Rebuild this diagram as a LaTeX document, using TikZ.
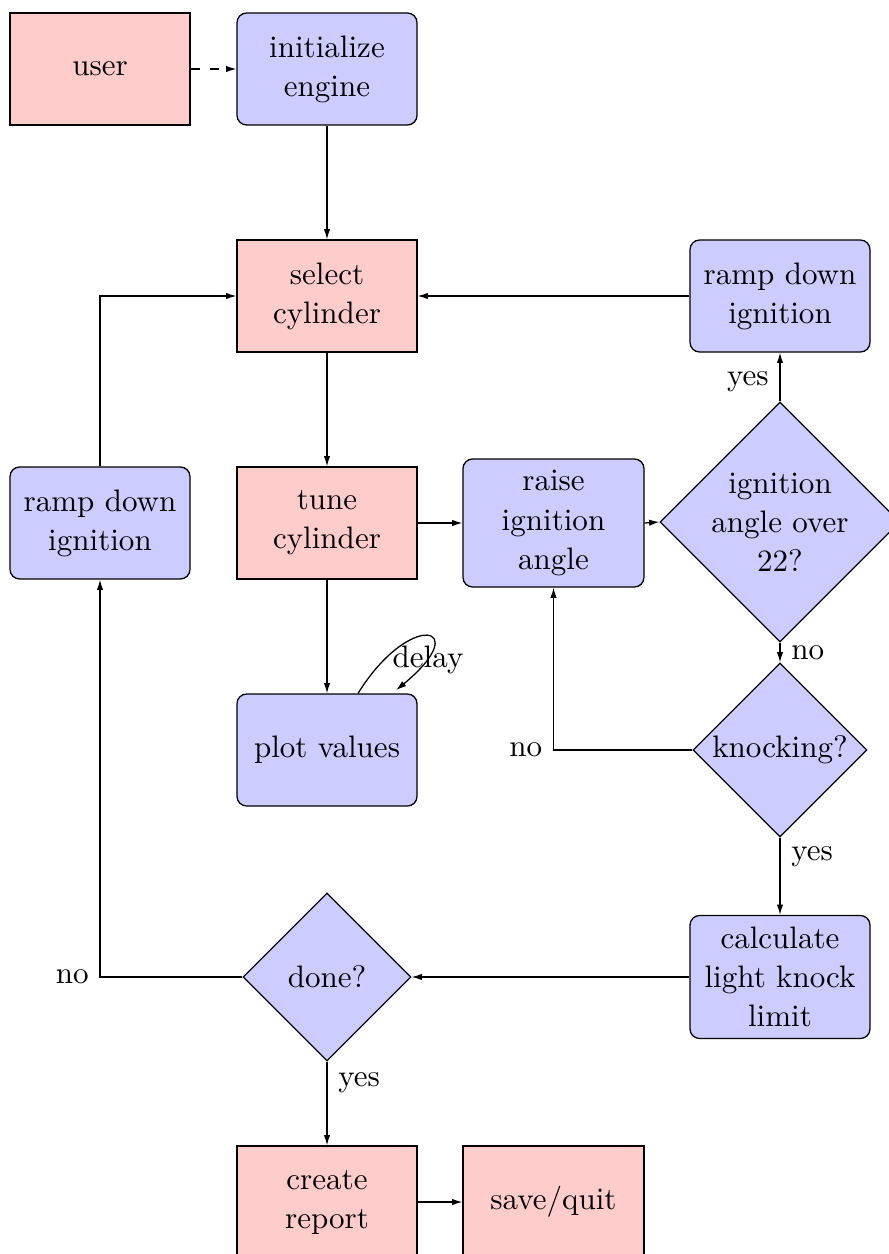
\documentclass[tikz,border=0pt]{standalone}
\usetikzlibrary{shapes.geometric,arrows.meta}
\newdimen\pxu \pxu=0.3125pt
\begin{document}
\begin{tikzpicture}[x=0.3125pt,y=-0.3125pt,
  font=\fontsize{9.7}{12.2}\selectfont,
  box/.style={rectangle,draw,minimum width=180\pxu,minimum height=112\pxu,align=center,inner sep=1pt},
  term/.style={box,fill=red!20},
  proc/.style={box,fill=blue!20,rounded corners=3pt},
  choice/.style={diamond,draw,fill=blue!20,inner sep=0pt,aspect=1},
  txt/.style={align=center,inner sep=0pt},
  flow/.style={draw,-{Latex[length=3.2pt,width=2pt]}}]
\useasboundingbox (0,0) rectangle (889,1254);
\clip (0,0) rectangle (889,1254);

% blocks
\node[term] (user)   at (100,69)  {user};
\node[proc] (init)   at (327,69)  {initialize\\engine};
\node[term] (select) at (327,296) {select\\cylinder};
\node[proc] (rampR)  at (780,296) {ramp down\\ignition};
\node[term] (tune)   at (327,523) {tune\\cylinder};
\node[proc] (rampL)  at (100,523) {ramp down\\ignition};
\node[proc,minimum width=181\pxu,minimum height=128\pxu] (raise) at (553.5,523) {raise\\ignition\\angle};
\node[proc] (plot)   at (327,750) {plot values};
\node[proc,minimum height=123\pxu] (calc) at (780,977) {calculate\\light knock\\limit};
\node[term] (report) at (327,1202) {create\\report};
\node[term,minimum width=181\pxu] (save) at (553.5,1202) {save/quit};

% decisions
\node[choice,minimum width=240\pxu,minimum height=240\pxu] (over) at (780,522) {};
\node[txt] (overtxt) at (over) {ignition\\angle over\\22?};
\node[choice,minimum width=174\pxu,minimum height=174\pxu] (knock) at (780,750) {};
\node[txt] (knocktxt) at (knock) {knocking?};
\node[choice,minimum width=168\pxu,minimum height=168\pxu] (done) at (327,977) {};
\node[txt] (donetxt) at (done) {done?};

% connectors
\draw[flow,dashed] (user) -- (init);
\draw[flow] (init) -- (select);
\draw[flow] (select) -- (tune);
\draw[flow] (tune) -- (raise);
\draw[flow] (raise.east) -- (over.west);
\draw[flow] (over) -- node[left,pos=0.4] {yes} (rampR);
\draw[flow] (rampR) -- (select);
\draw[flow] (over) -- node[right] {no} (knock);
\draw[flow] (knock) -| node[pos=0.5,left] {no} (raise);
\draw[flow] (knock) -- node[right,near start] {yes} (calc);
\draw[flow] (calc) -- (done);
\draw[flow] (done) -| node[pos=0.5,left] {no} (rampL);
\draw[flow] (rampL) |- (select);
\draw[flow] (done) -- node[right,near start] {yes} (report);
\draw[flow] (report) -- (save);
\draw[flow] (tune) -- (plot);

% self loop on the plot block
\draw[flow] ([xshift=9.7pt]plot.north) .. controls +(52,-84) and +(79,-65) .. ([xshift=21.6pt,yshift=1pt]plot.north);
\node (delay) at (428,660) {delay};
\end{tikzpicture}
\end{document}
